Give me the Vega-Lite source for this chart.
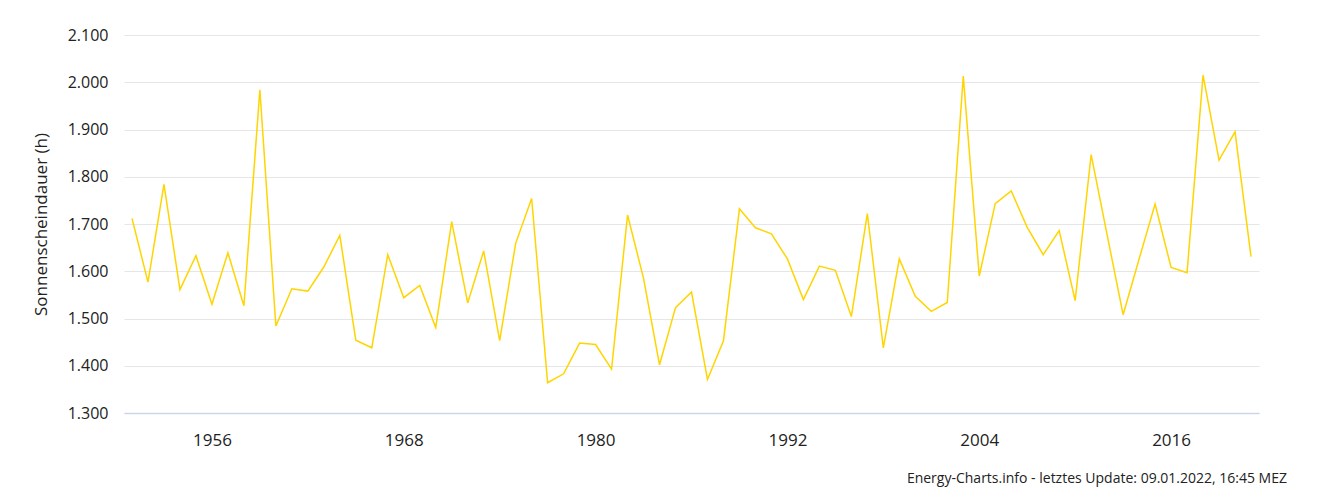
{
  "$schema": "https://vega.github.io/schema/vega-lite/v6.json",
  "width": 1135,
  "height": 378,
  "autosize": "none",
  "padding": {"left": 124, "top": 35, "right": 61, "bottom": 90},
  "background": "white",
  "config": {
    "locale": {"number": {"decimal": ",", "thousands": ".", "grouping": [3], "currency": ["", " €"]}},
    "view": {"stroke": null},
    "font": "Open Sans"
  },
  "title": {
    "text": "Energy-Charts.info - letztes Update: 09.01.2022, 16:45 MEZ",
    "orient": "bottom",
    "anchor": "end",
    "dx": 28,
    "offset": 24,
    "fontSize": 14,
    "fontWeight": "normal",
    "color": "#222222",
    "font": "Open Sans"
  },
  "data": {
    "values": [
      {"jahr": 1951, "stunden": 1712},
      {"jahr": 1952, "stunden": 1577},
      {"jahr": 1953, "stunden": 1784},
      {"jahr": 1954, "stunden": 1561},
      {"jahr": 1955, "stunden": 1633},
      {"jahr": 1956, "stunden": 1530},
      {"jahr": 1957, "stunden": 1639},
      {"jahr": 1958, "stunden": 1527},
      {"jahr": 1959, "stunden": 1984},
      {"jahr": 1960, "stunden": 1484},
      {"jahr": 1961, "stunden": 1563},
      {"jahr": 1962, "stunden": 1558},
      {"jahr": 1963, "stunden": 1609},
      {"jahr": 1964, "stunden": 1676},
      {"jahr": 1965, "stunden": 1454},
      {"jahr": 1966, "stunden": 1438},
      {"jahr": 1967, "stunden": 1635},
      {"jahr": 1968, "stunden": 1544},
      {"jahr": 1969, "stunden": 1570},
      {"jahr": 1970, "stunden": 1481},
      {"jahr": 1971, "stunden": 1705},
      {"jahr": 1972, "stunden": 1533},
      {"jahr": 1973, "stunden": 1643},
      {"jahr": 1974, "stunden": 1453},
      {"jahr": 1975, "stunden": 1659},
      {"jahr": 1976, "stunden": 1754},
      {"jahr": 1977, "stunden": 1364},
      {"jahr": 1978, "stunden": 1383},
      {"jahr": 1979, "stunden": 1448},
      {"jahr": 1980, "stunden": 1445},
      {"jahr": 1981, "stunden": 1393},
      {"jahr": 1982, "stunden": 1719},
      {"jahr": 1983, "stunden": 1585},
      {"jahr": 1984, "stunden": 1402},
      {"jahr": 1985, "stunden": 1523},
      {"jahr": 1986, "stunden": 1556},
      {"jahr": 1987, "stunden": 1371},
      {"jahr": 1988, "stunden": 1453},
      {"jahr": 1989, "stunden": 1732},
      {"jahr": 1990, "stunden": 1692},
      {"jahr": 1991, "stunden": 1679},
      {"jahr": 1992, "stunden": 1626},
      {"jahr": 1993, "stunden": 1540},
      {"jahr": 1994, "stunden": 1611},
      {"jahr": 1995, "stunden": 1602},
      {"jahr": 1996, "stunden": 1504},
      {"jahr": 1997, "stunden": 1722},
      {"jahr": 1998, "stunden": 1438},
      {"jahr": 1999, "stunden": 1626},
      {"jahr": 2000, "stunden": 1547},
      {"jahr": 2001, "stunden": 1515},
      {"jahr": 2002, "stunden": 1534},
      {"jahr": 2003, "stunden": 2013},
      {"jahr": 2004, "stunden": 1590},
      {"jahr": 2005, "stunden": 1743},
      {"jahr": 2006, "stunden": 1770},
      {"jahr": 2007, "stunden": 1693},
      {"jahr": 2008, "stunden": 1635},
      {"jahr": 2009, "stunden": 1686},
      {"jahr": 2010, "stunden": 1538},
      {"jahr": 2011, "stunden": 1847},
      {"jahr": 2012, "stunden": 1677},
      {"jahr": 2013, "stunden": 1508},
      {"jahr": 2014, "stunden": 1626},
      {"jahr": 2015, "stunden": 1742},
      {"jahr": 2016, "stunden": 1608},
      {"jahr": 2017, "stunden": 1597},
      {"jahr": 2018, "stunden": 2015},
      {"jahr": 2019, "stunden": 1835},
      {"jahr": 2020, "stunden": 1895},
      {"jahr": 2021, "stunden": 1631}
    ]
  },
  "mark": {"type": "line", "color": "#ffd500", "strokeWidth": 1.5},
  "encoding": {
    "x": {
      "field": "jahr",
      "type": "quantitative",
      "scale": {"domain": [1950.5, 2021.5], "nice": false, "zero": false},
      "axis": {
        "title": null,
        "values": [1956, 1968, 1980, 1992, 2004, 2016],
        "format": "d",
        "grid": false,
        "ticks": false,
        "domainColor": "#ccd6eb",
        "domainWidth": 1.5,
        "labelFontSize": 17,
        "labelColor": "#222222",
        "labelPadding": 19,
        "labelFont": "Open Sans"
      }
    },
    "y": {
      "field": "stunden",
      "type": "quantitative",
      "scale": {"domain": [1300, 2100], "nice": false, "zero": false},
      "axis": {
        "title": "Sonnenscheindauer (h)",
        "values": [1300, 1400, 1500, 1600, 1700, 1800, 1900, 2000, 2100],
        "format": ",d",
        "domain": false,
        "ticks": false,
        "gridColor": "#e6e6e6",
        "labelFontSize": 16,
        "labelColor": "#222222",
        "labelPadding": 16,
        "labelFont": "Open Sans",
        "titleFontSize": 17,
        "titleFontWeight": "normal",
        "titleColor": "#222222",
        "titleFont": "Open Sans",
        "titlePadding": 17
      }
    }
  }
}
